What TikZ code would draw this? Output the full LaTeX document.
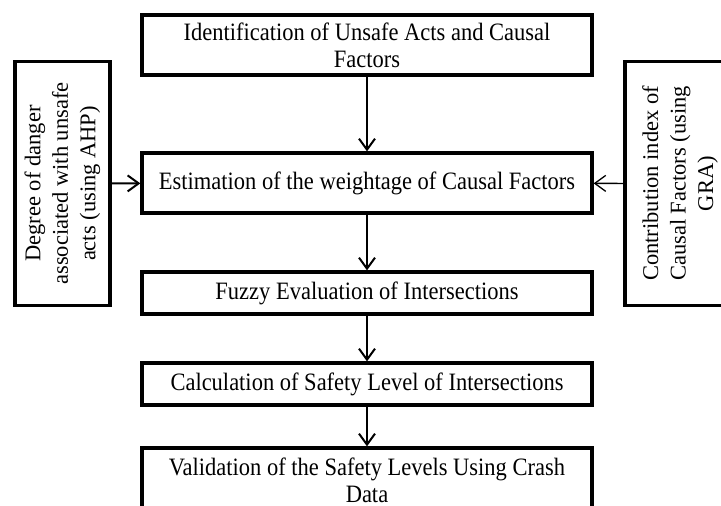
\documentclass[tikz,border=0pt]{standalone}
\usepackage{fontspec}
\setmainfont{Liberation Serif}
\newfontfamily\stagefont[FakeStretch=0.9]{Liberation Serif}
\usetikzlibrary{arrows.meta}

\begin{document}
\begin{tikzpicture}[x=1pt,y=-1pt,
        stagebox/.style={draw,line width=3.3pt,minimum width=450pt,inner sep=0pt,
            align=center,font=\stagefont\fontsize{25}{27}\selectfont},
        sidebox/.style={draw,line width=3.3pt,rotate=90,minimum width=244pt,inner sep=0pt,
            align=center,font=\fontsize{22.5}{27.5}\selectfont},
        flow/.style={line width=2pt,-{Straight Barb[length=11pt,width=16pt]}}]
    \useasboundingbox (0,0) rectangle (721,506);
    \clip (0,0) rectangle (721,506);
    % main chain of steps
    \node[stagebox,minimum height=60pt] (ident) at (367,45)
        {Identification of Unsafe Acts and Causal\\Factors};
    \node[stagebox,minimum height=60pt] (estim) at (367,183)
        {Estimation of the weightage of Causal Factors};
    \node[stagebox,minimum height=42pt] (fuzzy) at (367,293)
        {Fuzzy Evaluation of Intersections};
    \node[stagebox,minimum height=42pt] (calc) at (367,384)
        {Calculation of Safety Level of Intersections};
    \node[stagebox,minimum height=64pt] (valid) at (367,480)
        {Validation of the Safety Levels Using Crash\\Data};
    % inputs from the sides
    \node[sidebox,minimum height=95pt] (ahp) at (62.5,183.5)
        {Degree of danger\\associated with unsafe\\acts (using AHP)};
    \node[sidebox,minimum height=110pt] (gra) at (680,183.5)
        {Contribution index of\\Causal Factors (using\\GRA)};
    % connectors
    \draw[flow] (ident) -- (estim);
    \draw[flow] (estim) -- (fuzzy);
    \draw[flow] (fuzzy) -- (calc);
    \draw[flow] (calc) -- (valid);
    \draw[flow] (ahp) -- (estim);
    \draw[flow,line width=1.3pt] (gra) -- (estim);
\end{tikzpicture}
\end{document}
